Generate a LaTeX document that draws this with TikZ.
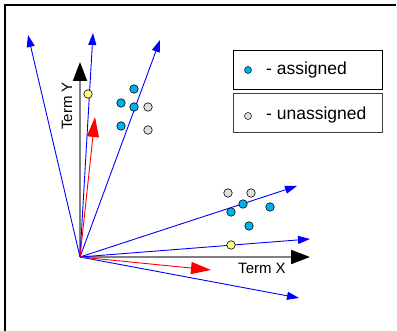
\documentclass[tikz,border=0pt]{standalone}
\usepackage{fontspec}
\setmainfont{Liberation Sans}
\usetikzlibrary{arrows.meta}
\definecolor{assignedblue}{RGB}{0,176,240}
\definecolor{unassignedgray}{RGB}{222,222,222}
\definecolor{seedyellow}{RGB}{255,255,128}
\tikzset{
  docvec/.style={blue, line width=0.9pt, -{Triangle[length=12pt,width=8pt]}},
  centroid/.style={red, line width=0.9pt, -{Triangle[length=20pt,width=12pt]}},
  termaxis/.style={gray, line width=2pt, -{Triangle[length=19pt,width=14pt,fill=black,color=black]}},
  dotbase/.style={circle, draw=black, line width=0.6pt, inner sep=0pt, minimum size=8.5pt},
  adot/.style={dotbase, fill=assignedblue},
  udot/.style={dotbase, fill=unassignedgray},
  ydot/.style={dotbase, fill=seedyellow},
  legendbox/.style={draw, line width=0.9pt, minimum width=149pt, minimum height=39pt, inner sep=0pt},
  legenddot/.style={circle, draw=black, line width=0.5pt, inner sep=0pt, minimum size=7pt},
  axislabel/.style={font=\fontsize{15}{15}\selectfont, inner sep=0pt},
  legendtext/.style={font=\fontsize{17.5}{17.5}\selectfont, inner sep=0pt, anchor=west}
}
\begin{document}
\begin{tikzpicture}[x=1pt, y=-1pt]
\useasboundingbox (0,0) rectangle (397,331);
% frame
\draw[line width=1.4pt] (5,331) -- (5,5) -- (396,5);

% origin and vector end points
\coordinate (O) at (80,257);
\coordinate (v1) at (28,35);
\coordinate (v2) at (93,33);
\coordinate (v3) at (160,40);
\coordinate (v4) at (297,186);
\coordinate (v5) at (310,239);
\coordinate (v6) at (299,298);
\coordinate (c1) at (95,117);
\coordinate (c2) at (211,270);
\coordinate (ty) at (80,62);
\coordinate (tx) at (310,257);

% term axes
\draw[termaxis] (O) -- (ty);
\draw[termaxis] (O) -- (tx);
\node[axislabel, rotate=90] (ylab) at (67,106) {Term Y};
\node[axislabel] (xlab) at (262,268) {Term X};

% document vectors
\draw[docvec] (O) -- (v1);
\draw[docvec] (O) -- (v2);
\draw[docvec] (O) -- (v3);
\draw[docvec] (O) -- (v4);
\draw[docvec] (O) -- (v5);
\draw[docvec] (O) -- (v6);

% cluster centroids
\draw[centroid] (O) -- (c1);
\draw[centroid] (O) -- (c2);

% upper cluster
\node[ydot] (s1) at (88,94) {};
\node[adot] (a1) at (134,89) {};
\node[adot] (a2) at (121,103) {};
\node[adot] (a3) at (134,107) {};
\node[adot] (a4) at (121,126) {};
\node[udot] (u1) at (148,107) {};
\node[udot] (u2) at (148,130) {};

% lower cluster
\node[udot] (u3) at (228,193) {};
\node[udot] (u4) at (251,193) {};
\node[adot] (a5) at (243,204) {};
\node[adot] (a6) at (231,212) {};
\node[adot] (a7) at (270,207) {};
\node[adot] (a8) at (249,226) {};
\node[ydot] (s2) at (231,245) {};

% legend
\node[legendbox] (lg1) at (307.5,69.5) {};
\node[legendbox, draw=black!75] (lg2) at (307.5,113) {};
\node[legenddot, fill=assignedblue] (ld1) at (248,70) {};
\node[legenddot, fill=unassignedgray] (ld2) at (248,116) {};
\node[legendtext] (lt1) at (266,70) {- assigned};
\node[legendtext] (lt2) at (266,115) {- unassigned};
\end{tikzpicture}
\end{document}
